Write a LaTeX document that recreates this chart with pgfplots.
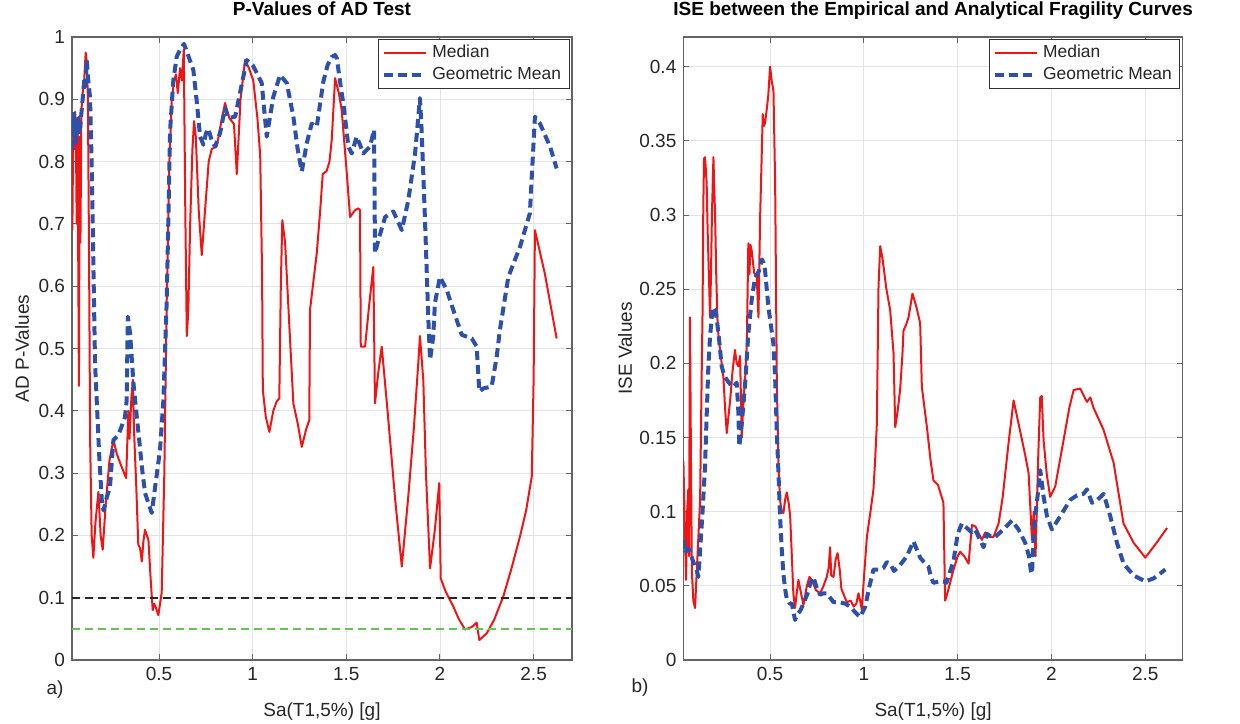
\documentclass[border=0pt]{standalone}
\usepackage{pgfplots}
\pgfplotsset{compat=1.18}
\usepackage{fontspec}
\setmainfont{Liberation Sans}
\definecolor{mred}{RGB}{240,20,20}
\definecolor{mblue}{RGB}{45,80,170}
\definecolor{mgreen}{RGB}{102,194,84}
\definecolor{axgray}{RGB}{100,100,100}
\definecolor{txtgray}{RGB}{38,38,38}

\pgfplotsset{
  matstyle/.style={
    scale only axis,
    axis line style={axgray, line width=0.6pt},
    tick style={axgray, line width=0.5pt},
    major tick length=3pt,
    tick align=inside,
    xtick pos=both, ytick pos=both,
    grid=major,
    major grid style={gray!22, line width=0.4pt},
    ticklabel style={font=\fontsize{9.5}{11}\selectfont, text=txtgray},
    /pgf/number format/assume math mode=true,
    label style={font=\fontsize{9.5}{11}\selectfont, text=txtgray},
    title style={font=\bfseries\fontsize{9.5}{11}\selectfont, at={(0.5,1)}, anchor=base, yshift=4.75pt},
    legend style={at={(0.995,0.997)}, anchor=north east, draw=black!80, fill=white,
      font=\fontsize{8.7}{10}\selectfont, text=txtgray, inner xsep=2pt, inner ysep=1pt,
      row sep=-1pt, line width=0.5pt},
    legend cell align=left,
    legend image code/.code={\draw[#1] (0pt,0pt) -- (21pt,0pt);},
    clip=true,
  },
  medstyle/.style={mred, line width=1pt, line join=round},
  gmstyle/.style={mblue, line width=2pt, dash pattern=on 4.5pt off 2.5pt, line join=round},
}

\pgfplotstableread{
x y
0.037 0.69
0.040 0.80
0.044 0.86
0.048 0.82
0.052 0.88
0.056 0.84
0.060 0.70
0.064 0.87
0.068 0.66
0.072 0.44
0.076 0.84
0.080 0.67
0.085 0.88
0.092 0.91
0.100 0.93
0.108 0.975
0.114 0.96
0.120 0.90
0.126 0.65
0.132 0.35
0.140 0.20
0.149 0.164
0.160 0.22
0.176 0.27
0.188 0.20
0.199 0.177
0.215 0.25
0.235 0.32
0.256 0.353
0.275 0.33
0.300 0.31
0.324 0.292
0.336 0.40
0.342 0.355
0.352 0.42
0.360 0.45
0.366 0.37
0.378 0.28
0.389 0.185
0.398 0.18
0.408 0.158
0.416 0.19
0.425 0.209
0.435 0.20
0.443 0.193
0.455 0.13
0.466 0.08
0.475 0.09
0.482 0.085
0.496 0.072
0.505 0.09
0.514 0.108
0.528 0.30
0.541 0.58
0.555 0.80
0.568 0.90
0.580 0.93
0.590 0.94
0.600 0.91
0.612 0.95
0.622 0.93
0.632 0.98
0.640 0.72
0.648 0.52
0.656 0.56
0.666 0.70
0.678 0.82
0.687 0.865
0.696 0.84
0.712 0.72
0.728 0.65
0.745 0.72
0.765 0.80
0.781 0.82
0.808 0.825
0.830 0.86
0.852 0.894
0.875 0.87
0.900 0.86
0.915 0.78
0.935 0.90
0.959 0.963
0.980 0.95
1.003 0.93
1.025 0.87
1.040 0.81
1.050 0.62
1.054 0.433
1.070 0.39
1.089 0.366
1.110 0.40
1.128 0.415
1.142 0.42
1.150 0.60
1.158 0.706
1.173 0.67
1.195 0.54
1.217 0.412
1.240 0.38
1.262 0.342
1.285 0.37
1.302 0.385
1.306 0.562
1.325 0.61
1.342 0.653
1.360 0.72
1.374 0.78
1.395 0.785
1.410 0.80
1.422 0.835
1.440 0.934
1.460 0.91
1.475 0.883
1.500 0.79
1.520 0.711
1.546 0.722
1.564 0.725
1.573 0.722
1.577 0.503
1.600 0.503
1.622 0.57
1.644 0.631
1.653 0.412
1.670 0.46
1.689 0.503
1.720 0.40
1.760 0.26
1.796 0.15
1.830 0.26
1.860 0.37
1.884 0.476
1.893 0.52
1.911 0.449
1.925 0.30
1.947 0.147
1.973 0.21
1.996 0.284
2.004 0.131
2.030 0.11
2.071 0.086
2.100 0.066
2.134 0.049
2.170 0.053
2.196 0.06
2.210 0.032
2.250 0.043
2.290 0.065
2.338 0.102
2.380 0.145
2.427 0.198
2.460 0.24
2.490 0.294
2.500 0.45
2.507 0.69
2.560 0.62
2.623 0.516
}\adMed

\pgfplotstableread{
x y
0.037 0.82
0.040 0.86
0.044 0.88
0.048 0.84
0.052 0.87
0.056 0.83
0.060 0.86
0.065 0.84
0.070 0.87
0.075 0.85
0.080 0.86
0.086 0.88
0.092 0.90
0.100 0.93
0.106 0.92
0.114 0.963
0.122 0.93
0.131 0.904
0.140 0.797
0.149 0.637
0.158 0.476
0.167 0.417
0.180 0.33
0.194 0.257
0.203 0.24
0.220 0.26
0.238 0.278
0.256 0.353
0.283 0.361
0.300 0.375
0.318 0.39
0.327 0.417
0.333 0.551
0.345 0.525
0.363 0.445
0.381 0.39
0.395 0.35
0.408 0.31
0.425 0.268
0.445 0.25
0.461 0.236
0.479 0.278
0.505 0.337
0.523 0.417
0.541 0.578
0.559 0.851
0.576 0.93
0.594 0.968
0.612 0.98
0.633 0.989
0.650 0.975
0.683 0.947
0.700 0.90
0.719 0.84
0.737 0.827
0.750 0.845
0.763 0.853
0.780 0.835
0.799 0.824
0.826 0.846
0.852 0.886
0.870 0.87
0.906 0.872
0.932 0.91
0.968 0.963
1.000 0.955
1.022 0.942
1.048 0.926
1.075 0.84
1.110 0.904
1.146 0.939
1.182 0.926
1.217 0.872
1.240 0.82
1.262 0.784
1.289 0.83
1.315 0.861
1.342 0.856
1.377 0.928
1.400 0.955
1.422 0.968
1.440 0.971
1.449 0.966
1.475 0.91
1.484 0.894
1.511 0.824
1.529 0.813
1.555 0.84
1.573 0.827
1.590 0.813
1.626 0.824
1.648 0.851
1.653 0.653
1.671 0.674
1.707 0.711
1.751 0.72
1.796 0.69
1.831 0.738
1.867 0.813
1.893 0.902
1.902 0.851
1.920 0.706
1.938 0.546
1.947 0.482
1.964 0.519
1.973 0.573
2.000 0.615
2.036 0.594
2.071 0.562
2.116 0.522
2.170 0.516
2.196 0.503
2.210 0.431
2.232 0.436
2.276 0.439
2.303 0.487
2.320 0.53
2.365 0.615
2.427 0.663
2.480 0.717
2.507 0.872
2.534 0.861
2.588 0.824
2.623 0.789
}\adGM

\pgfplotstableread{
x y
0.038 0.134
0.042 0.110
0.052 0.054
0.058 0.10
0.064 0.115
0.068 0.07
0.073 0.231
0.078 0.14
0.083 0.06
0.091 0.04
0.100 0.035
0.113 0.07
0.127 0.108
0.136 0.198
0.140 0.234
0.144 0.305
0.148 0.338
0.153 0.339
0.158 0.33
0.162 0.321
0.167 0.29
0.171 0.272
0.176 0.25
0.180 0.231
0.185 0.26
0.190 0.30
0.198 0.339
0.202 0.32
0.207 0.299
0.213 0.26
0.219 0.231
0.224 0.22
0.237 0.205
0.251 0.191
0.260 0.17
0.269 0.153
0.287 0.175
0.300 0.195
0.313 0.209
0.322 0.20
0.331 0.198
0.340 0.205
0.349 0.15
0.358 0.175
0.367 0.19
0.376 0.213
0.384 0.281
0.390 0.26
0.395 0.28
0.402 0.276
0.415 0.261
0.429 0.258
0.438 0.231
0.447 0.299
0.461 0.368
0.467 0.36
0.473 0.362
0.482 0.371
0.490 0.38
0.500 0.40
0.509 0.39
0.518 0.384
0.527 0.321
0.536 0.186
0.545 0.13
0.553 0.108
0.562 0.10
0.571 0.099
0.580 0.108
0.589 0.113
0.600 0.105
0.607 0.097
0.616 0.07
0.624 0.045
0.633 0.035
0.642 0.045
0.651 0.054
0.665 0.045
0.678 0.037
0.696 0.05
0.710 0.056
0.722 0.054
0.745 0.047
0.767 0.045
0.785 0.05
0.802 0.056
0.812 0.062
0.820 0.076
0.826 0.057
0.838 0.056
0.850 0.068
0.860 0.072
0.872 0.06
0.880 0.048
0.909 0.039
0.930 0.04
0.945 0.036
0.960 0.038
0.971 0.045
0.980 0.04
0.989 0.034
1.000 0.055
1.016 0.083
1.035 0.10
1.051 0.115
1.060 0.135
1.069 0.159
1.078 0.252
1.087 0.279
1.100 0.27
1.120 0.25
1.140 0.236
1.158 0.207
1.167 0.157
1.180 0.168
1.193 0.182
1.205 0.205
1.211 0.222
1.225 0.226
1.238 0.231
1.259 0.247
1.280 0.238
1.300 0.227
1.309 0.184
1.336 0.157
1.355 0.135
1.371 0.121
1.395 0.118
1.424 0.106
1.433 0.04
1.445 0.045
1.478 0.061
1.500 0.07
1.513 0.073
1.535 0.07
1.558 0.065
1.576 0.091
1.595 0.09
1.629 0.081
1.647 0.086
1.670 0.083
1.691 0.083
1.718 0.092
1.740 0.11
1.770 0.145
1.798 0.175
1.830 0.156
1.860 0.138
1.878 0.126
1.896 0.081
1.905 0.10
1.915 0.07
1.930 0.14
1.940 0.177
1.948 0.178
1.958 0.148
1.975 0.125
1.993 0.11
2.020 0.117
2.064 0.148
2.095 0.170
2.118 0.182
2.153 0.183
2.189 0.174
2.207 0.177
2.224 0.17
2.278 0.155
2.331 0.133
2.384 0.092
2.438 0.079
2.500 0.069
2.560 0.079
2.616 0.089
}\iseMed

\pgfplotstableread{
x y
0.038 0.081
0.047 0.072
0.060 0.075
0.073 0.074
0.085 0.068
0.100 0.063
0.110 0.060
0.118 0.056
0.127 0.074
0.140 0.10
0.153 0.13
0.162 0.165
0.171 0.198
0.180 0.218
0.189 0.231
0.198 0.238
0.207 0.236
0.216 0.23
0.229 0.215
0.242 0.198
0.255 0.192
0.269 0.189
0.287 0.186
0.304 0.184
0.322 0.187
0.330 0.17
0.336 0.144
0.349 0.159
0.367 0.186
0.384 0.22
0.402 0.243
0.420 0.258
0.440 0.262
0.456 0.27
0.465 0.268
0.473 0.263
0.491 0.238
0.505 0.225
0.518 0.213
0.527 0.19
0.536 0.153
0.545 0.125
0.553 0.097
0.562 0.075
0.571 0.058
0.580 0.048
0.589 0.041
0.605 0.038
0.616 0.038
0.633 0.027
0.646 0.031
0.660 0.033
0.678 0.038
0.700 0.045
0.715 0.052
0.731 0.056
0.750 0.048
0.767 0.044
0.785 0.045
0.802 0.045
0.820 0.042
0.838 0.039
0.870 0.039
0.900 0.038
0.927 0.036
0.955 0.032
0.980 0.029
1.007 0.036
1.030 0.05
1.051 0.061
1.080 0.061
1.104 0.062
1.122 0.066
1.140 0.065
1.160 0.060
1.193 0.064
1.229 0.07
1.264 0.08
1.300 0.069
1.320 0.066
1.344 0.063
1.360 0.055
1.371 0.052
1.400 0.053
1.424 0.053
1.440 0.052
1.478 0.067
1.500 0.085
1.522 0.092
1.549 0.089
1.575 0.086
1.593 0.088
1.615 0.082
1.638 0.076
1.656 0.085
1.680 0.083
1.700 0.083
1.744 0.088
1.789 0.094
1.824 0.088
1.860 0.079
1.880 0.07
1.890 0.06
1.896 0.058
1.905 0.085
1.913 0.097
1.930 0.115
1.940 0.128
1.958 0.11
1.976 0.097
2.002 0.088
2.047 0.097
2.100 0.108
2.136 0.111
2.170 0.112
2.189 0.115
2.216 0.106
2.245 0.108
2.278 0.112
2.313 0.097
2.349 0.079
2.384 0.065
2.438 0.057
2.500 0.053
2.544 0.055
2.607 0.061
}\iseGM

\begin{document}
\begin{tikzpicture}
\useasboundingbox (0,0) rectangle (620pt,361.5pt);

\begin{axis}[matstyle,
  at={(36pt,31.5pt)}, anchor=south west,
  width=250pt, height=311.5pt,
  xmin=0.035, xmax=2.705, ymin=0, ymax=1,
  xtick={0.5,1,1.5,2,2.5},
  xticklabels={0.5,1,1.5,2,2.5},
  ytick={0,0.1,0.2,0.3,0.4,0.5,0.6,0.7,0.8,0.9,1},
  yticklabels={0,0.1,0.2,0.3,0.4,0.5,0.6,0.7,0.8,0.9,1},
  title={P-Values of AD Test},
  xlabel={Sa(T1,5\%) [g]},
  ylabel={AD P-Values},
  xlabel style={at={(axis description cs:0.5,-0.082)}, anchor=center},
  ylabel style={at={(axis description cs:-0.1,0.5)}, anchor=center},
]
\addplot[medstyle] table[x=x,y=y] {\adMed};
\addlegendentry{Median}
\addplot[gmstyle] table[x=x,y=y] {\adGM};
\addlegendentry{Geometric Mean}
\addplot[black!85, line width=0.9pt, dash pattern=on 4pt off 2.5pt, forget plot] coordinates {(0.035,0.1) (2.705,0.1)};
\addplot[mgreen, line width=0.9pt, dash pattern=on 4pt off 2.5pt, forget plot] coordinates {(0.035,0.05) (2.705,0.05)};
\end{axis}
\node[font=\fontsize{9.5}{11}\selectfont, text=txtgray] at (27.5pt,16.5pt) {a)};

\begin{axis}[matstyle,
  at={(341.7pt,31.5pt)}, anchor=south west,
  width=249.7pt, height=311.5pt,
  xmin=0.038, xmax=2.7, ymin=0, ymax=0.42,
  xtick={0.5,1,1.5,2,2.5},
  xticklabels={0.5,1,1.5,2,2.5},
  ytick={0,0.05,0.1,0.15,0.2,0.25,0.3,0.35,0.4},
  yticklabels={0,0.05,0.1,0.15,0.2,0.25,0.3,0.35,0.4},
  title={ISE between the Empirical and Analytical Fragility Curves},
  xlabel={Sa(T1,5\%) [g]},
  ylabel={ISE Values},
  xlabel style={at={(axis description cs:0.5,-0.082)}, anchor=center},
  ylabel style={at={(axis description cs:-0.117,0.5)}, anchor=center},
]
\addplot[medstyle] table[x=x,y=y] {\iseMed};
\addlegendentry{Median}
\addplot[gmstyle] table[x=x,y=y] {\iseGM};
\addlegendentry{Geometric Mean}
\end{axis}
\node[font=\fontsize{9.5}{11}\selectfont, text=txtgray] at (320pt,17.5pt) {b)};
\end{tikzpicture}
\end{document}
